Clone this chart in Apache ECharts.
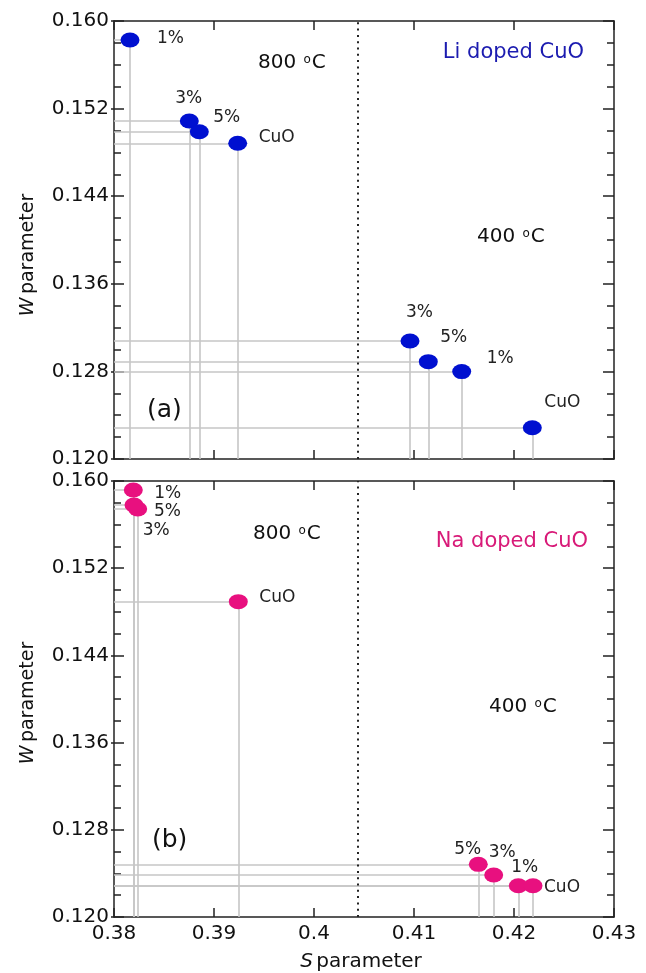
<!DOCTYPE html>
<html>
<head>
<meta charset="utf-8">
<script src="https://cdn.jsdelivr.net/npm/echarts@6/dist/echarts.min.js"></script>
<style>
  html, body { margin: 0; padding: 0; background: #fff; }
  #chart { width: 646px; height: 973px; }
</style>
</head>
<body>
<div id="chart"></div>
<script>
// Doping levels, in the same order for every array below
const dopings = ['1%', '3%', '5%', 'CuO'];

// (a) Li doped CuO
const liS800 = [0.3816, 0.38753, 0.38853, 0.39237];
const liW800 = [0.15826, 0.15087, 0.14989, 0.14883];
const liS400 = [0.41477, 0.4096, 0.41143, 0.42183];
const liW400 = [0.12798, 0.13078, 0.12889, 0.12286];

// (b) Na doped CuO
const naS800 = [0.38193, 0.38237, 0.3820, 0.39243];
const naW800 = [0.15917, 0.15743, 0.1578, 0.14893];
const naS400 = [0.42043, 0.41797, 0.41643, 0.4219];
const naW400 = [0.12287, 0.12385, 0.12483, 0.12287];

// S value separating the 800 °C and 400 °C groups
const boundaryS = [0.4044];

// Tick labels
const xTickLabels = ['0.38', '0.39', '0.4', '0.41', '0.42', '0.43'];
const yTickLabels = ['0.120', '0.128', '0.136', '0.144', '0.152', '0.160'];

const S_MIN = 0.38, S_MAX = 0.43, W_MIN = 0.12, W_MAX = 0.16;

const FONT = '"DejaVu Sans", "Liberation Sans", sans-serif';
const AXIS_COLOR = '#222';
const DROP_COLOR = '#c6c6c6';
const LI_COLOR = '#0010d0';
const NA_COLOR = '#e8107f';

// Label placement for each point (px, from the marker centre)
const labelOffsets = {
  li800: [[27, -1], [-14, -22], [14, -14], [21, -6]],
  li400: [[25, -13], [-4, -28], [12, -24], [12, -25]],
  na800: [[21, 4], [5, 22], [20, 7], [21, -4]],
  na400: [[-7, -18], [-5, -22], [-24, -15], [11, 2]]
};

const chart = echarts.init(document.getElementById('chart'), null, { renderer: 'canvas' });

function xAxes(grid, withLabels) {
  const base = {
    type: 'value', gridIndex: grid, min: S_MIN, max: S_MAX, interval: 0.01,
    splitLine: { show: false },
    axisLine: { show: true, onZero: false, lineStyle: { color: AXIS_COLOR, width: 1.5 } },
    axisTick: { show: true, inside: true, length: 9, lineStyle: { color: AXIS_COLOR, width: 1.5 } }
  };
  return [
    Object.assign({}, base, {
      position: 'bottom',
      axisLabel: {
        show: withLabels, margin: 7, color: '#111', fontSize: 20, fontFamily: FONT,
        formatter: (v, i) => xTickLabels[i]
      }
    }),
    Object.assign({}, base, { position: 'top', axisLabel: { show: false } })
  ];
}

function yAxes(grid) {
  const base = {
    type: 'value', gridIndex: grid, min: W_MIN, max: W_MAX, interval: 0.008,
    splitLine: { show: false }, minorSplitLine: { show: false }
  };
  return [
    Object.assign({}, base, {
      position: 'left',
      axisLine: { show: true, onZero: false, lineStyle: { color: AXIS_COLOR, width: 1.5 } },
      axisTick: { show: true, inside: true, length: 10, lineStyle: { color: AXIS_COLOR, width: 1.5 } },
      minorTick: { show: true, splitNumber: 4, length: 7, lineStyle: { color: AXIS_COLOR, width: 1.5 } },
      axisLabel: {
        show: true, margin: 5, color: '#111', fontSize: 20, fontFamily: FONT,
        formatter: (v, i) => yTickLabels[i]
      }
    }),
    Object.assign({}, base, {
      position: 'right',
      axisLine: { show: true, onZero: false, lineStyle: { color: AXIS_COLOR, width: 1.5 } },
      axisTick: { show: true, inside: true, length: 11, lineStyle: { color: AXIS_COLOR, width: 1.5 } },
      minorTick: { show: true, splitNumber: 4, length: 7, lineStyle: { color: AXIS_COLOR, width: 1.5 } },
      axisLabel: { show: false }
    }),
    // short outward stubs at the labelled ticks
    Object.assign({}, base, {
      position: 'left',
      axisLine: { show: false },
      axisTick: { show: true, inside: false, length: 3, lineStyle: { color: AXIS_COLOR, width: 1.5 } },
      axisLabel: { show: false }
    })
  ];
}

function points(sArr, wArr, offsets) {
  return sArr.map((s, i) => ({
    name: dopings[i],
    value: [s, wArr[i]],
    label: { offset: offsets[i] }
  }));
}

// Grey guide lines from each point down to the S axis and across to the W axis
function dropLines(groups) {
  const out = [];
  groups.forEach(([sArr, wArr]) => {
    sArr.forEach((s, i) => {
      const w = wArr[i];
      out.push({ coords: [[s, W_MIN], [s, w]] });
      out.push({ coords: [[S_MIN, w], [s, w]] });
    });
  });
  return out;
}

function panelSeries(xi, yi, color, groups, offsetSets) {
  const list = [
    {
      type: 'lines', coordinateSystem: 'cartesian2d', xAxisIndex: xi, yAxisIndex: yi,
      polyline: false, silent: true, z: 1,
      lineStyle: { color: DROP_COLOR, width: 1.6, opacity: 1 },
      data: dropLines(groups)
    },
    {
      // dotted divider between the two annealing temperatures
      type: 'lines', coordinateSystem: 'cartesian2d', xAxisIndex: xi, yAxisIndex: yi,
      polyline: false, silent: true, z: 2,
      lineStyle: { color: '#222', width: 2, type: [2, 4.3], opacity: 1 },
      data: boundaryS.map(v => ({ coords: [[v, W_MIN], [v, W_MAX]] }))
    }
  ];
  groups.forEach(([sArr, wArr], g) => {
    list.push({
      type: 'scatter', xAxisIndex: xi, yAxisIndex: yi, z: 3,
      symbol: 'circle', symbolSize: [19, 15],
      itemStyle: { color: color, opacity: 1 },
      label: {
        show: true, formatter: '{b}', position: 'inside', align: 'left', verticalAlign: 'middle',
        color: '#222', fontSize: 17, fontFamily: FONT
      },
      emphasis: { disabled: true },
      data: points(sArr, wArr, offsetSets[g])
    });
  });
  return list;
}

function tempText(x, y, value) {
  return {
    type: 'text', x: x, y: y, z: 10,
    style: {
      text: '{n|' + value + ' }{o|o}{n|C}',
      textVerticalAlign: 'middle', textAlign: 'left',
      rich: {
        n: { fontSize: 20, fontFamily: FONT, fill: '#111', lineHeight: 22 },
        o: { fontSize: 12, fontFamily: FONT, fill: '#111', padding: [0, 1, 6, 1] }
      }
    }
  };
}

function plainText(x, y, text, color, size, align) {
  return {
    type: 'text', x: x, y: y, z: 10,
    style: {
      text: text, fill: color, font: size + 'px ' + FONT,
      textAlign: align || 'left', textVerticalAlign: 'middle'
    }
  };
}

function wTitle(x, y) {
  return {
    type: 'text', x: x, y: y, rotation: Math.PI / 2, z: 10,
    style: {
      text: '{i|W} {n|parameter}', textAlign: 'center', textVerticalAlign: 'middle',
      rich: {
        i: { fontSize: 19, fontStyle: 'italic', fontFamily: FONT, fill: '#111' },
        n: { fontSize: 19, fontFamily: FONT, fill: '#111' }
      }
    }
  };
}

const option = {
  backgroundColor: '#fff',
  animation: false,
  grid: [
    { left: 114, top: 21, width: 500, height: 438 },
    { left: 114, top: 481, width: 500, height: 436 }
  ],
  xAxis: [...xAxes(0, false), ...xAxes(1, true)],
  yAxis: [...yAxes(0), ...yAxes(1)],
  series: [
    ...panelSeries(0, 0, LI_COLOR, [[liS800, liW800], [liS400, liW400]], [labelOffsets.li800, labelOffsets.li400]),
    ...panelSeries(2, 3, NA_COLOR, [[naS800, naW800], [naS400, naW400]], [labelOffsets.na800, labelOffsets.na400])
  ],
  graphic: [
    tempText(258, 63, '800'),
    tempText(477, 237, '400'),
    plainText(584, 53, 'Li doped CuO', '#1c1cb0', 21, 'right'),
    plainText(147, 410, '(a)', '#111', 25),
    tempText(253, 534, '800'),
    tempText(489, 707, '400'),
    plainText(588, 542, 'Na doped CuO', '#d81a78', 21, 'right'),
    plainText(152, 840, '(b)', '#111', 25),
    wTitle(28, 255),
    wTitle(28, 703),
    {
      type: 'text', x: 361, y: 962, z: 10,
      style: {
        text: '{i|S} {n|parameter}', textAlign: 'center', textVerticalAlign: 'middle',
        rich: {
          i: { fontSize: 20, fontStyle: 'italic', fontFamily: FONT, fill: '#111' },
          n: { fontSize: 20, fontFamily: FONT, fill: '#111' }
        }
      }
    }
  ]
};

chart.setOption(option);
</script>
</body>
</html>
